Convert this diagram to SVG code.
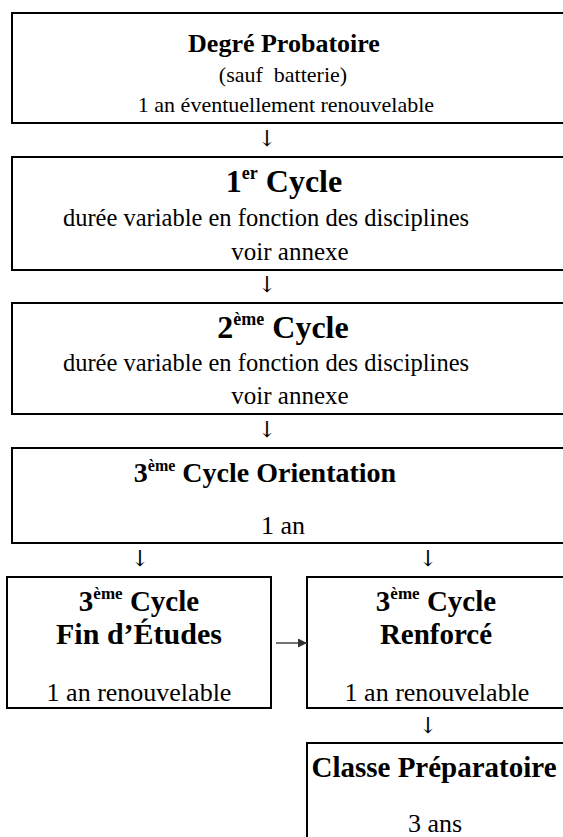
<svg xmlns="http://www.w3.org/2000/svg" width="563" height="837" viewBox="0 0 563 837">
<style>
.box{fill:#fff;stroke:#000;stroke-width:2}
.t{font-family:"Liberation Serif","Times New Roman",serif;fill:#000;text-anchor:middle}
.b{font-weight:bold}
.arr{font-family:"DejaVu Serif","Liberation Serif",serif;font-size:22px;fill:#000;text-anchor:middle}
.conn{stroke:#444;stroke-width:1.5;fill:none}
</style>
<defs>
<marker id="ah" viewBox="0 0 10 10" refX="10" refY="5" markerWidth="9" markerHeight="9" markerUnits="userSpaceOnUse" orient="auto">
<path d="M0,0 L10,5 L0,10 z" fill="#333"/>
</marker>
</defs>
<g id="n1">
<rect class="box" x="12" y="13" width="560" height="110"/>
<text class="t b" x="284" y="52" font-size="26">Degré Probatoire</text>
<text class="t" x="283" y="82" font-size="22" xml:space="preserve">(sauf  batterie)</text>
<text class="t" x="286" y="112" font-size="22">1 an éventuellement renouvelable</text>
</g>
<g id="n2">
<rect class="box" x="12" y="157" width="560" height="113"/>
<text class="t b" x="284" y="192" font-size="32">1<tspan font-size="18" dy="-13">er</tspan><tspan dy="13"> Cycle</tspan></text>
<text class="t" x="266" y="226" font-size="24.5">durée variable en fonction des disciplines</text>
<text class="t" x="290" y="260" font-size="25">voir annexe</text>
</g>
<g id="n3">
<rect class="box" x="12" y="303" width="560" height="111"/>
<text class="t b" x="283" y="338" font-size="32">2<tspan font-size="18" dy="-13">ème</tspan><tspan dy="13"> Cycle</tspan></text>
<text class="t" x="266" y="371" font-size="24.5">durée variable en fonction des disciplines</text>
<text class="t" x="290" y="404" font-size="25">voir annexe</text>
</g>
<g id="n4">
<rect class="box" x="12" y="448" width="560" height="95"/>
<text class="t b" x="265" y="482" font-size="28">3<tspan font-size="16" dy="-11">ème</tspan><tspan dy="11"> Cycle Orientation</tspan></text>
<text class="t" x="283" y="534" font-size="26">1 an</text>
</g>
<g id="n5">
<rect class="box" x="7" y="577" width="264" height="131"/>
<text class="t b" x="139" y="611" font-size="29">3<tspan font-size="17" dy="-12">ème</tspan><tspan dy="12"> Cycle</tspan></text>
<text class="t b" x="139" y="644" font-size="30">Fin d’Études</text>
<text class="t" x="139" y="701" font-size="26">1 an renouvelable</text>
</g>
<g id="n6">
<rect class="box" x="307" y="577" width="265" height="131"/>
<text class="t b" x="436" y="611" font-size="29">3<tspan font-size="17" dy="-12">ème</tspan><tspan dy="12"> Cycle</tspan></text>
<text class="t b" x="436" y="644" font-size="29">Renforcé</text>
<text class="t" x="437" y="701" font-size="26">1 an renouvelable</text>
</g>
<g id="n7">
<rect class="box" x="307" y="743" width="265" height="110"/>
<text class="t b" x="434" y="777" font-size="29">Classe Préparatoire</text>
<text class="t" x="435" y="832" font-size="26">3 ans</text>
</g>
<g id="connectors">
<text class="arr" x="267" y="146">↓</text>
<text class="arr" x="267" y="292">↓</text>
<text class="arr" x="267" y="437">↓</text>
<text class="arr" x="140" y="566">↓</text>
<text class="arr" x="428" y="566">↓</text>
<text class="arr" x="428" y="733">↓</text>
<line class="conn" x1="276" y1="643" x2="307" y2="643" marker-end="url(#ah)"/>
</g>
</svg>
